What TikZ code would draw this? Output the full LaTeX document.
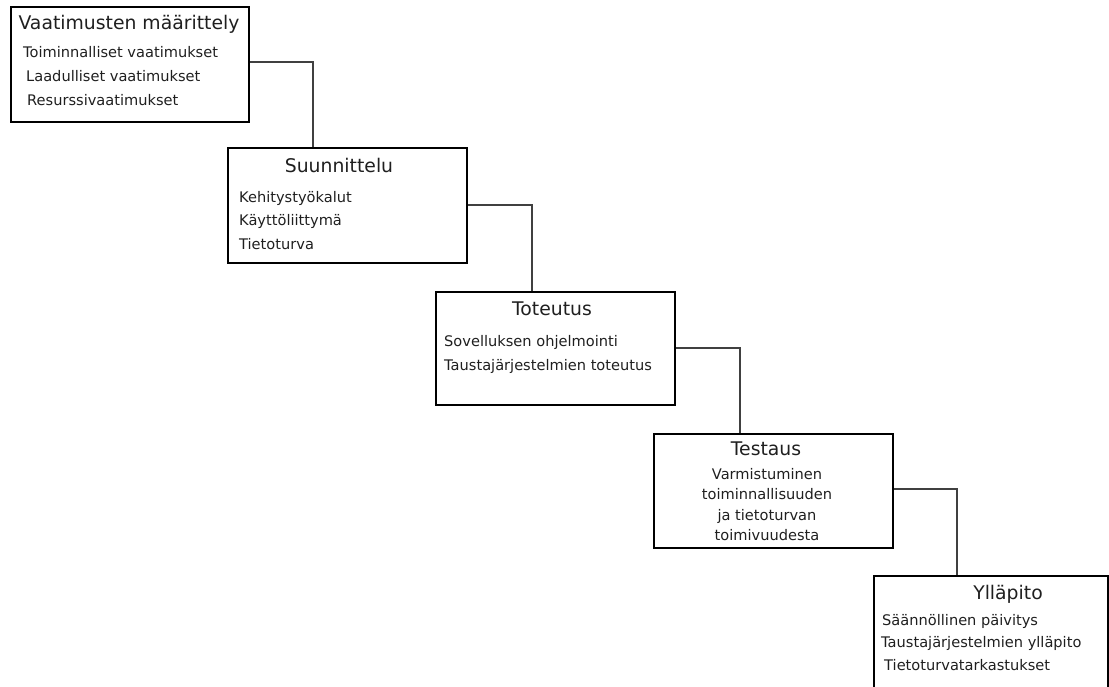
\documentclass[tikz,border=0pt]{standalone}
\usepackage{fontspec}
\setmainfont{DejaVu Sans}
\begin{document}
\begin{tikzpicture}[x=1pt,y=-1pt,
  phase/.style={draw=black,line width=2pt,anchor=north west,inner sep=0pt,fill=none},
  ttl/.style={anchor=base,inner sep=0pt,text=black!88,font=\fontsize{18.8}{20}\selectfont},
  itm/.style={anchor=base west,inner sep=0pt,text=black!88,font=\fontsize{14.6}{16}\selectfont},
  itc/.style={anchor=base,inner sep=0pt,text=black!88,font=\fontsize{14.6}{16}\selectfont},
  link/.style={draw=black!75,line width=1.2pt}]
\useasboundingbox (0,0) rectangle (1109,687);
\clip (0,0) rectangle (1109,687);
% boxes
\node[phase,minimum width=238pt,minimum height=115pt] (b1) at (10,6) {};
\node[phase,minimum width=239pt,minimum height=115pt] (b2) at (227,147) {};
\node[phase,minimum width=239pt,minimum height=113pt] (b3) at (435,291) {};
\node[phase,minimum width=239pt,minimum height=114pt] (b4) at (653,433) {};
\node[phase,minimum width=234pt,minimum height=140pt] (b5) at (873,575) {};
% box 1
\node[ttl] (t1) at (129,30) {Vaatimusten määrittely};
\node[itm] (i11) at (23,58) {Toiminnalliset vaatimukset};
\node[itm] (i12) at (26,82) {Laadulliset vaatimukset};
\node[itm] (i13) at (27,106) {Resurssivaatimukset};
% box 2
\node[ttl] (t2) at (339,173) {Suunnittelu};
\node[itm] (i21) at (239,203) {Kehitystyökalut};
\node[itm] (i22) at (239,226) {Käyttöliittymä};
\node[itm] (i23) at (239,250) {Tietoturva};
% box 3
\node[ttl] (t3) at (552,316) {Toteutus};
\node[itm] (i31) at (444,346) {Sovelluksen ohjelmointi};
\node[itm] (i32) at (444,370) {Taustajärjestelmien toteutus};
% box 4
\node[ttl] (t4) at (766,455) {Testaus};
\node[itc] (i41) at (767,479) {Varmistuminen};
\node[itc] (i42) at (767,499) {toiminnallisuuden};
\node[itc] (i43) at (767,520) {ja tietoturvan};
\node[itc] (i44) at (767,540) {toimivuudesta};
% box 5
\node[ttl] (t5) at (1008,599) {Ylläpito};
\node[itm] (i51) at (882,625) {Säännöllinen päivitys};
\node[itm] (i52) at (881,647) {Taustajärjestelmien ylläpito};
\node[itm] (i53) at (884,670) {Tietoturvatarkastukset};
% connectors
\draw[link] (b1.east |- {(0,62)}) -| (b2.north -| {(313,0)});
\draw[link] (b2.east |- {(0,205)}) -| (b3.north -| {(532,0)});
\draw[link] (b3.east |- {(0,348)}) -| (b4.north -| {(740,0)});
\draw[link] (b4.east |- {(0,489)}) -| (b5.north -| {(957,0)});
\end{tikzpicture}
\end{document}
